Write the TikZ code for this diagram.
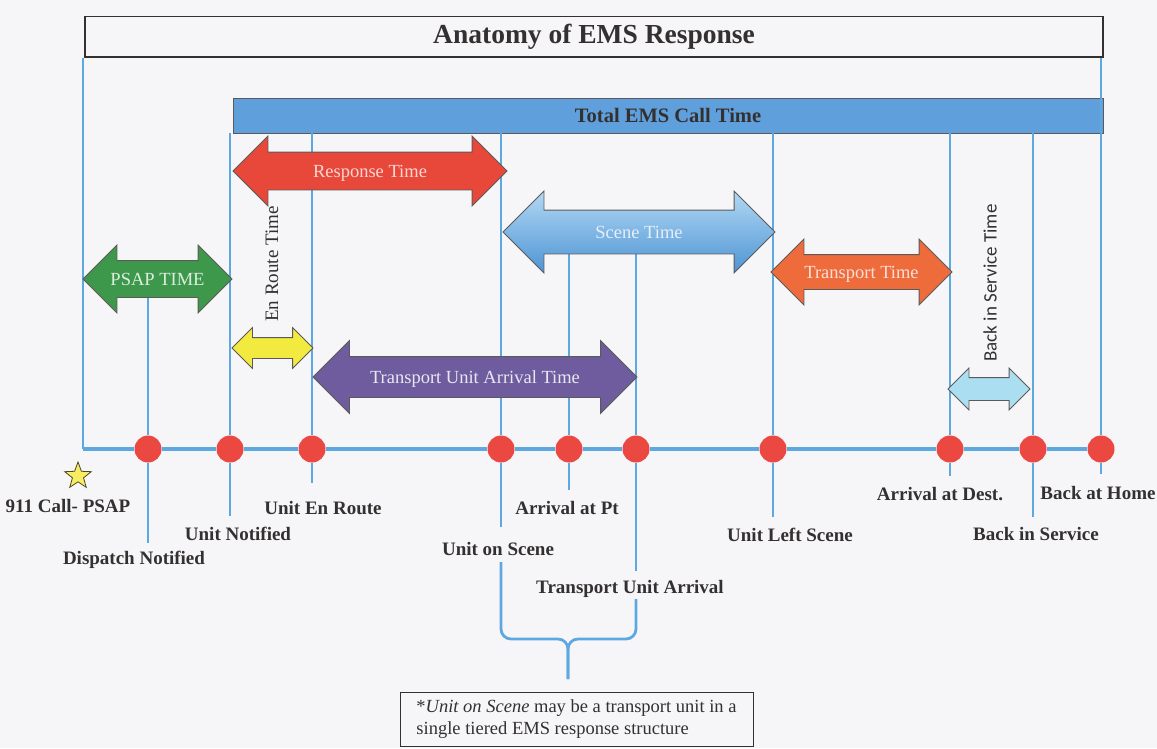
\documentclass[tikz,border=0pt]{standalone}
\usepackage{fontspec}
\setmainfont{Liberation Serif}
\newfontfamily\sansbody{Carlito}
\usetikzlibrary{shapes.arrows,shapes.geometric}
\definecolor{lineblue}{RGB}{93,168,225}
\definecolor{barblue}{RGB}{95,160,220}
\definecolor{dotred}{RGB}{236,72,66}
\definecolor{psapgreen}{RGB}{62,152,76}
\definecolor{respred}{RGB}{232,72,58}
\definecolor{scenetop}{RGB}{178,216,244}
\definecolor{scenebot}{RGB}{78,148,212}
\definecolor{transorange}{RGB}{238,108,60}
\definecolor{enryellow}{RGB}{242,234,62}
\definecolor{tuapurple}{RGB}{110,92,158}
\definecolor{bisblue}{RGB}{170,222,240}
\definecolor{starfill}{RGB}{248,236,96}
\definecolor{inkgray}{RGB}{52,48,48}
\definecolor{paper}{RGB}{246,246,248}

\begin{document}
\begin{tikzpicture}[
  x=1pt,
  y=-1pt,
  every node/.style={text=inkgray},
  lbl/.style={font=\fontsize{19}{22}\selectfont\bfseries, inner sep=0pt},
  vtext/.style={rotate=90, font=\fontsize{19}{22}\selectfont, inner sep=0pt},
  vline/.style={draw=lineblue, line width=2.6pt},
  axis/.style={draw=lineblue, line width=3.6pt},
  event/.style={circle, fill=dotred, minimum size=27pt, inner sep=0pt},
  span/.style={double arrow, double arrow tip angle=90, draw=inkgray!80, line width=0.8pt,
    inner xsep=2pt, text height=12pt, text depth=0pt, font=\fontsize{18.5}{20}\selectfont},
  titlebox/.style={draw=inkgray, line width=1.2pt, minimum width=1018pt, minimum height=40.5pt,
    font=\fontsize{27.5}{30}\selectfont\bfseries},
  callbar/.style={draw=inkgray!80, line width=0.8pt, fill=barblue, minimum width=870pt,
    minimum height=35pt, font=\fontsize{20.5}{24}\selectfont\bfseries},
  note/.style={draw=inkgray, line width=0.9pt, minimum width=353pt, minimum height=54pt,
    align=left, inner sep=0pt, font=\fontsize{18.5}{21.5}\selectfont}
]
\path[use as bounding box, fill=paper] (0,0) rectangle (1157,748);

\node[titlebox] (title) at (594,36.75) {Anatomy of EMS Response};
\node[callbar] (bar) at (668,115.5) {Total EMS Call Time};

% events on the time line
\coordinate (call) at (83,449);
\node[event] (disp) at (148,449) {};
\node[event] (unot) at (230,449) {};
\node[event] (enroute) at (312,449) {};
\node[event] (onscene) at (501,449) {};
\node[event] (atpt) at (569,449) {};
\node[event] (tua) at (636,449) {};
\node[event] (leftsc) at (773,449) {};
\node[event] (atdest) at (950,449) {};
\node[event] (inserv) at (1033,449) {};
\node[event] (athome) at (1101,449) {};

\coordinate (disp-t) at (148,279);
\coordinate (atpt-t) at (569,232);
\coordinate (tua-t) at (636,232);
\coordinate (disp-b) at (148,543);
\coordinate (unot-b) at (230,516);
\coordinate (enroute-b) at (312,483);
\coordinate (onscene-b) at (501,527);
\coordinate (atpt-b) at (569,490);
\coordinate (tua-b) at (636,571);
\coordinate (leftsc-b) at (773,517);
\coordinate (atdest-b) at (950,476);
\coordinate (inserv-b) at (1033,517);
\coordinate (athome-b) at (1101,474);

\draw[vline] (title.south -| call) -- (call);
\draw[vline] (disp-t) -- (disp) -- (disp-b);
\draw[vline] (bar.south -| unot) -- (unot) -- (unot-b);
\draw[vline] (bar.south -| enroute) -- (enroute) -- (enroute-b);
\draw[vline] (bar.south -| onscene) -- (onscene) -- (onscene-b);
\draw[vline] (atpt-t) -- (atpt) -- (atpt-b);
\draw[vline] (tua-t) -- (tua) -- (tua-b);
\draw[vline] (bar.south -| leftsc) -- (leftsc) -- (leftsc-b);
\draw[vline] (bar.south -| atdest) -- (atdest) -- (atdest-b);
\draw[vline] (bar.south -| inserv) -- (inserv) -- (inserv-b);
\draw[vline] (title.south -| athome) -- (athome) -- (athome-b);
\draw[axis] (call) -- (disp) -- (unot) -- (enroute) -- (onscene) -- (atpt) -- (tua)
  -- (leftsc) -- (atdest) -- (inserv) -- (athome);

% bracket under the two arrivals
\coordinate (onscene-c) at (501,562);
\coordinate (tua-c) at (636,599);
\coordinate (brace-mid) at (568,639);
\coordinate (brace-tip) at (568,679);
\draw[vline, line width=2.8pt, rounded corners=10pt] (onscene-c) |- (brace-mid) -- (brace-tip);
\draw[vline, line width=2.8pt, rounded corners=10pt] (tua-c) |- (brace-mid) -- (brace-tip);

% intervals
\node[span, fill=psapgreen, text=white!82!psapgreen, minimum height=149pt, inner ysep=12pt,
  double arrow head extend=15.5pt] (psap) at (157.5,279) {PSAP TIME};
\node[span, fill=respred, text=white!78!respred, minimum height=274pt, inner ysep=12.5pt,
  double arrow head extend=16pt] (resp) at (370,171) {Response Time};
\node[span, top color=scenetop, bottom color=scenebot, text=white!85!scenebot, minimum height=272pt,
  inner ysep=15.5pt, double arrow head extend=19pt] (scenet) at (639,232) {Scene Time};
\node[span, fill=transorange, text=white!78!transorange, minimum height=181pt, inner ysep=11pt,
  double arrow head extend=15.5pt] (transt) at (861.5,272) {Transport Time};
\node[span, fill=enryellow, minimum height=81pt, inner ysep=4pt,
  double arrow head extend=10pt] (enr) at (272.5,348) {};
\node[span, fill=tuapurple, text=white!85!tuapurple, minimum height=324pt, inner ysep=14pt,
  double arrow head extend=16pt] (tuat) at (475,377) {Transport Unit Arrival Time};
\node[span, fill=bisblue, minimum height=82pt, inner ysep=5pt,
  double arrow head extend=9.5pt] (bist) at (989,389) {};

\node[vtext] (enr-lbl) at (272,264) {En Route Time};
\node[vtext, font=\fontsize{19}{22}\sansbody] (bis-lbl) at (990,283) {Back in Service Time};

\node[star, star points=5, star point ratio=2.4, minimum size=28pt, inner sep=0pt,
  fill=starfill, draw=inkgray!70!olive, line width=0.8pt] (callstar) at (78,476) {};

\node[lbl] (call-lbl) at (68,506) {911 Call- PSAP};
\node[lbl] (disp-lbl) at (134,560) {Dispatch Notified};
\node[lbl] (unot-lbl) at (238,534) {Unit Notified};
\node[lbl] (enroute-lbl) at (323,508) {Unit En Route};
\node[lbl] (onscene-lbl) at (498,549) {Unit on Scene};
\node[lbl] (atpt-lbl) at (567,508) {Arrival at Pt};
\node[lbl] (tua-lbl) at (630,589) {Transport Unit Arrival};
\node[lbl] (leftsc-lbl) at (790,535) {Unit Left Scene};
\node[lbl] (atdest-lbl) at (940,494) {Arrival at Dest.};
\node[lbl] (inserv-lbl) at (1036,534) {Back in Service};
\node[lbl] (athome-lbl) at (1098,493) {Back at Home};

\node[note] (footnote) at (576.5,719) {*\textit{Unit on Scene} may be a transport unit in a\\single tiered EMS response structure};
\end{tikzpicture}
\end{document}
